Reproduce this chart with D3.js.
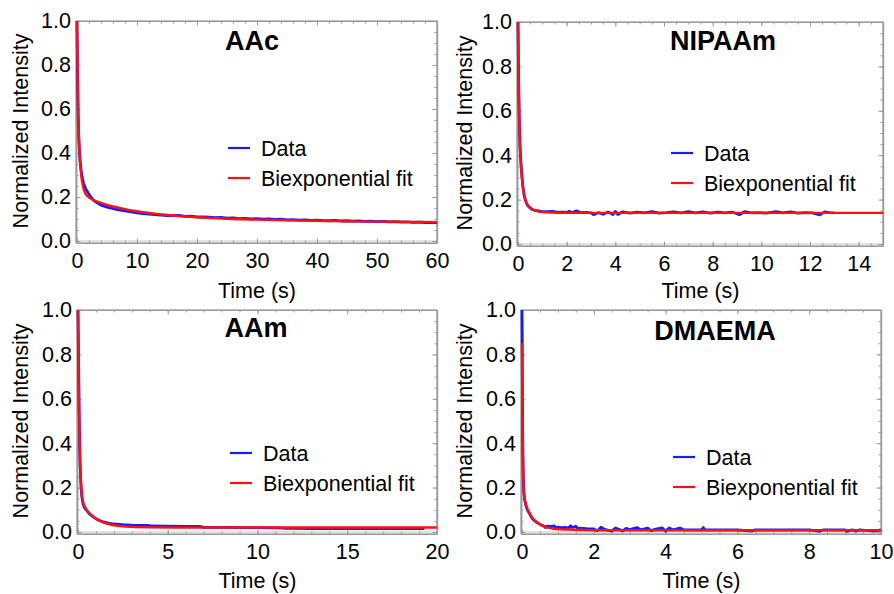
<!DOCTYPE html>
<html>
<head>
<meta charset="utf-8">
<script src="https://d3js.org/d3.v7.min.js"></script>
<style>
  body { margin: 0; background: #fff; }
  svg text { font-family: "Liberation Sans", Arial, sans-serif; fill: #000; }
</style>
</head>
<body>
<svg width="894" height="594"></svg>
<script>
// ---- data: [time (s), normalized intensity] ----
var aacData = [[0,1.0],[0.05,0.86],[0.1,0.74],[0.2,0.57],[0.3,0.47],[0.4,0.41],[0.5,0.37],[0.7,0.32],[0.9,0.285],[1.1,0.262],[1.3,0.247],[1.5,0.234],[1.7,0.226],[2.0,0.212],[2.3,0.2],[2.6,0.19],[3.0,0.18],[3.5,0.171],[4,0.163],[4.5,0.158],[5,0.154],[5.5,0.151],[6,0.147],[7,0.141],[8,0.137],[9,0.132],[10,0.128],[11,0.125],[12,0.122],[13,0.12],[14,0.118],[15,0.116],[16,0.115],[17,0.116],[18,0.112],[19,0.113],[20,0.11],[21,0.109],[22,0.108],[23,0.106],[24,0.107],[25,0.104],[26,0.105],[27,0.102],[28,0.103],[29,0.101],[30,0.102],[31,0.099],[32,0.1],[33,0.098],[34,0.099],[35,0.096],[36,0.097],[37,0.095],[38,0.096],[39,0.094],[40,0.095],[41,0.093],[42,0.092],[43,0.094],[44,0.091],[45,0.092],[46,0.09],[47,0.091],[48,0.089],[49,0.09],[50,0.088],[51,0.089],[52,0.087],[53,0.088],[54,0.086],[55,0.087],[56,0.085],[57,0.086],[58,0.084],[59,0.085],[60,0.083]];
var aacFit = [[0,1.0],[0.05,0.85],[0.1,0.74],[0.2,0.58],[0.3,0.48],[0.4,0.41],[0.5,0.36],[0.7,0.3],[0.9,0.262],[1.1,0.237],[1.3,0.222],[1.6,0.208],[2,0.198],[2.5,0.19],[3,0.183],[4,0.173],[5,0.164],[6,0.157],[8,0.145],[10,0.135],[12,0.127],[15,0.118],[20,0.108],[25,0.101],[30,0.097],[35,0.094],[40,0.092],[45,0.09],[50,0.088],[55,0.087],[60,0.086]];

var nipaamData = [[0,1.0],[0.02,0.8],[0.05,0.58],[0.08,0.45],[0.11,0.39],[0.15,0.32],[0.2,0.26],[0.25,0.22],[0.3,0.2],[0.35,0.185],[0.4,0.172],[0.5,0.162],[0.6,0.155],[0.7,0.152],[0.8,0.15],[0.9,0.148],[1.0,0.147],[1.2,0.146],[1.4,0.147],[1.6,0.144],[1.8,0.143],[2.0,0.142],[2.1,0.148],[2.2,0.141],[2.4,0.149],[2.6,0.141],[2.8,0.142],[3.0,0.14],[3.1,0.132],[3.3,0.141],[3.5,0.134],[3.7,0.144],[3.9,0.133],[4.0,0.147],[4.1,0.133],[4.3,0.145],[4.6,0.139],[4.9,0.144],[5.2,0.14],[5.5,0.146],[5.8,0.139],[6.1,0.141],[6.4,0.145],[6.7,0.14],[7.0,0.146],[7.3,0.14],[7.6,0.145],[7.9,0.139],[8.2,0.144],[8.5,0.14],[8.8,0.144],[9.1,0.132],[9.3,0.146],[9.6,0.14],[9.9,0.141],[10.2,0.139],[10.6,0.146],[10.9,0.14],[11.2,0.145],[11.5,0.139],[11.8,0.141],[12.1,0.14],[12.4,0.131],[12.6,0.145],[12.8,0.141],[13.0,0.14]];
var nipaamFit = [[0,1.0],[0.02,0.78],[0.05,0.57],[0.08,0.44],[0.11,0.37],[0.15,0.31],[0.2,0.255],[0.25,0.22],[0.3,0.198],[0.4,0.175],[0.5,0.162],[0.6,0.154],[0.8,0.147],[1.0,0.144],[1.3,0.142],[1.6,0.141],[2,0.14],[15,0.14]];

var aamData = [[0,1.0],[0.02,0.85],[0.04,0.72],[0.06,0.56],[0.09,0.4],[0.12,0.3],[0.15,0.24],[0.18,0.19],[0.22,0.155],[0.27,0.13],[0.33,0.115],[0.4,0.105],[0.5,0.095],[0.6,0.085],[0.7,0.077],[0.85,0.068],[1.0,0.06],[1.2,0.052],[1.4,0.046],[1.7,0.04],[2.0,0.036],[2.5,0.033],[3,0.031],[3.5,0.03],[3.9,0.03],[4,0.027],[5,0.026],[6,0.025],[6.8,0.025],[7,0.021],[8,0.021],[9,0.02],[10,0.02],[11,0.019],[11.5,0.017],[12,0.016],[13,0.015],[14,0.015],[15,0.015],[16,0.015],[17,0.015],[18,0.015],[19.3,0.015]];
var aamFit = [[0,1.0],[0.02,0.85],[0.04,0.7],[0.06,0.55],[0.09,0.4],[0.12,0.3],[0.15,0.24],[0.18,0.2],[0.22,0.165],[0.27,0.14],[0.33,0.123],[0.4,0.11],[0.5,0.097],[0.6,0.088],[0.75,0.076],[1.0,0.06],[1.3,0.047],[1.7,0.036],[2.2,0.028],[3,0.023],[4,0.021],[6,0.02],[10,0.02],[20,0.02]];

var dmaemaData = [[0,1.0],[0.005,0.9],[0.01,0.7],[0.015,0.55],[0.02,0.42],[0.03,0.3],[0.04,0.22],[0.05,0.18],[0.07,0.15],[0.1,0.125],[0.13,0.108],[0.16,0.096],[0.2,0.085],[0.25,0.07],[0.3,0.058],[0.35,0.05],[0.4,0.044],[0.45,0.04],[0.5,0.035],[0.55,0.03],[0.6,0.028],[0.65,0.02],[0.7,0.026],[0.8,0.025],[0.9,0.027],[0.95,0.018],[1.0,0.022],[1.1,0.02],[1.2,0.021],[1.3,0.018],[1.35,0.028],[1.4,0.02],[1.5,0.026],[1.55,0.015],[1.6,0.017],[1.8,0.015],[2.0,0.014],[2.1,0.005],[2.2,0.022],[2.3,0.012],[2.5,0.004],[2.6,0.018],[2.7,0.012],[2.8,0.004],[2.9,0.016],[3.0,0.011],[3.2,0.02],[3.3,0.01],[3.5,0.018],[3.6,0.005],[3.7,0.012],[3.9,0.019],[4.0,0.004],[4.1,0.018],[4.2,0.01],[4.4,0.018],[4.5,0.01],[5.0,0.01],[5.05,0.02],[5.1,0.01],[6.0,0.01],[6.4,0.004],[6.5,0.01],[8.0,0.01],[8.3,0.003],[8.4,0.01],[9.0,0.01],[9.05,0.003],[9.2,0.01],[9.3,0.003],[9.4,0.01],[9.8,0.004],[10,0.01]];
var dmaemaFit = [[0,0.85],[0.005,0.72],[0.01,0.6],[0.015,0.5],[0.02,0.42],[0.03,0.3],[0.04,0.22],[0.05,0.18],[0.07,0.15],[0.1,0.128],[0.13,0.112],[0.16,0.1],[0.2,0.088],[0.25,0.073],[0.3,0.061],[0.35,0.052],[0.45,0.039],[0.55,0.03],[0.7,0.021],[0.85,0.016],[1,0.013],[1.3,0.011],[1.7,0.009],[2.2,0.008],[3,0.008],[10,0.008]];

var titles = ["AAc", "NIPAAm", "AAm", "DMAEMA"];
var xMax = [60, 15, 20, 10];
var xMajor = [10, 2, 5, 2];
var xMinor = [2, 0.5, 1, 0.5];
var yTicks = [0, 0.2, 0.4, 0.6, 0.8, 1.0];
var legendLabels = ["Data", "Biexponential fit"];

// ---- layout of each panel (pixels) ----
var panels = [
  {data: aacData,    fit: aacFit,    x0: 77,  x1: 437, yTop: 21, yBot: 241, titleX: 252, titleY: 50,  legX: 228, legY: 148, ylabX: 28,  xlabY: 298},
  {data: nipaamData, fit: nipaamFit, x0: 518, x1: 883, yTop: 22, yBot: 244, titleX: 723, titleY: 50,  legX: 671, legY: 153, ylabX: 472, xlabY: 298},
  {data: aamData,    fit: aamFit,    x0: 78,  x1: 437, yTop: 310, yBot: 532, titleX: 256, titleY: 337, legX: 230, legY: 453, ylabX: 28,  xlabY: 588},
  {data: dmaemaData, fit: dmaemaFit, x0: 522, x1: 881, yTop: 310, yBot: 532, titleX: 715, titleY: 340, legX: 673, legY: 457, ylabX: 472, xlabY: 588}
];

var frameColor = "#9a9a9a";
var blue = "#1a1aff", red = "#ff1010";
var svg = d3.select("svg");

panels.forEach(function(p, i) {
  var x = d3.scaleLinear().domain([0, xMax[i]]).range([p.x0, p.x1]);
  var y = d3.scaleLinear().domain([0, 1]).range([p.yBot, p.yTop]);
  var fb = p.yBot + 2;   // frame bottom sits a bit below zero
  var fl = p.x0 - 1;

  var g = svg.append("g");

  // light zero lines
  g.append("line").attr("x1", p.x0).attr("x2", p.x1).attr("y1", y(0)).attr("y2", y(0))
    .attr("stroke", "#d8d8d8").attr("stroke-width", 1.5);
  g.append("line").attr("x1", x(0)).attr("x2", x(0)).attr("y1", p.yTop).attr("y2", p.yBot)
    .attr("stroke", "#d8d8d8").attr("stroke-width", 1.5);

  var majX = d3.range(0, xMax[i] + 1e-9, xMajor[i]);
  var minX = d3.range(0, xMax[i] + 1e-9, xMinor[i]);
  var minY = d3.range(0, 1 + 1e-9, 0.05);

  function styleAxis(sel) {
    sel.select(".domain").attr("stroke", frameColor).attr("stroke-width", 1.2);
    sel.selectAll(".tick line").attr("stroke", frameColor).attr("stroke-width", 1);
    sel.selectAll(".tick text").style("font-size", "21.5px").attr("fill", "#000");
  }

  // bottom
  g.append("g").attr("transform", "translate(0," + fb + ")")
    .call(d3.axisBottom(x).tickValues(minX).tickSize(-2.5).tickFormat("").tickSizeOuter(0))
    .call(styleAxis);
  g.append("g").attr("transform", "translate(0," + fb + ")")
    .call(d3.axisBottom(x).tickValues(majX).tickSize(-4.5).tickSizeOuter(0).tickPadding(10).tickFormat(d3.format("d")))
    .call(styleAxis);
  // top
  g.append("g").attr("transform", "translate(0," + p.yTop + ")")
    .call(d3.axisTop(x).tickValues(minX).tickSize(-2.5).tickFormat("").tickSizeOuter(0))
    .call(styleAxis);
  g.append("g").attr("transform", "translate(0," + p.yTop + ")")
    .call(d3.axisTop(x).tickValues(majX).tickSize(-4.5).tickFormat("").tickSizeOuter(0))
    .call(styleAxis);
  // left
  g.append("g").attr("transform", "translate(" + fl + ",0)")
    .call(d3.axisLeft(y).tickValues(minY).tickSize(-2.5).tickFormat("").tickSizeOuter(0))
    .call(styleAxis);
  g.append("g").attr("transform", "translate(" + fl + ",0)")
    .call(d3.axisLeft(y).tickValues(yTicks).tickSize(-4.5).tickPadding(5).tickSizeOuter(0).tickFormat(d3.format(".1f")))
    .call(styleAxis);
  // right
  g.append("g").attr("transform", "translate(" + p.x1 + ",0)")
    .call(d3.axisRight(y).tickValues(minY).tickSize(-2.5).tickFormat("").tickSizeOuter(0))
    .call(styleAxis);
  g.append("g").attr("transform", "translate(" + p.x1 + ",0)")
    .call(d3.axisRight(y).tickValues(yTicks).tickSize(-4.5).tickFormat("").tickSizeOuter(0))
    .call(styleAxis);

  // frame edges to close corners
  g.append("rect").attr("x", fl).attr("y", p.yTop).attr("width", p.x1 - fl).attr("height", fb - p.yTop)
    .attr("fill", "none").attr("stroke", frameColor).attr("stroke-width", 1.2);

  var line = d3.line().x(function(d) { return x(d[0]); }).y(function(d) { return y(d[1]); });

  g.append("path").datum(p.data).attr("d", line)
    .attr("fill", "none").attr("stroke", blue).attr("stroke-width", 2.8).attr("stroke-linejoin", "round");
  g.append("path").datum(p.fit).attr("d", line.curve(d3.curveMonotoneX))
    .attr("fill", "none").attr("stroke", red).attr("stroke-width", 2.4).attr("stroke-linejoin", "round");

  // title
  g.append("text").attr("x", p.titleX).attr("y", p.titleY).attr("text-anchor", "middle")
    .style("font-size", "27px").style("font-weight", "bold").text(titles[i]);

  // legend
  var legColors = [blue, red];
  legendLabels.forEach(function(lab, j) {
    var ly = p.legY + j * 30;
    g.append("line").attr("x1", p.legX).attr("x2", p.legX + 22).attr("y1", ly).attr("y2", ly)
      .attr("stroke", legColors[j]).attr("stroke-width", 2.2);
    g.append("text").attr("x", p.legX + 33).attr("y", ly).attr("dy", "0.36em")
      .style("font-size", "21.5px").text(lab);
  });

  // axis labels
  g.append("text").attr("x", (p.x0 + p.x1) / 2).attr("y", p.xlabY).attr("text-anchor", "middle")
    .style("font-size", "21.5px").text("Time (s)");
  g.append("text").attr("transform", "translate(" + p.ylabX + "," + (p.yTop + p.yBot) / 2 + ") rotate(-90)")
    .attr("text-anchor", "middle").style("font-size", "21.5px").text("Normalized Intensity");
});
</script>
</body>
</html>
